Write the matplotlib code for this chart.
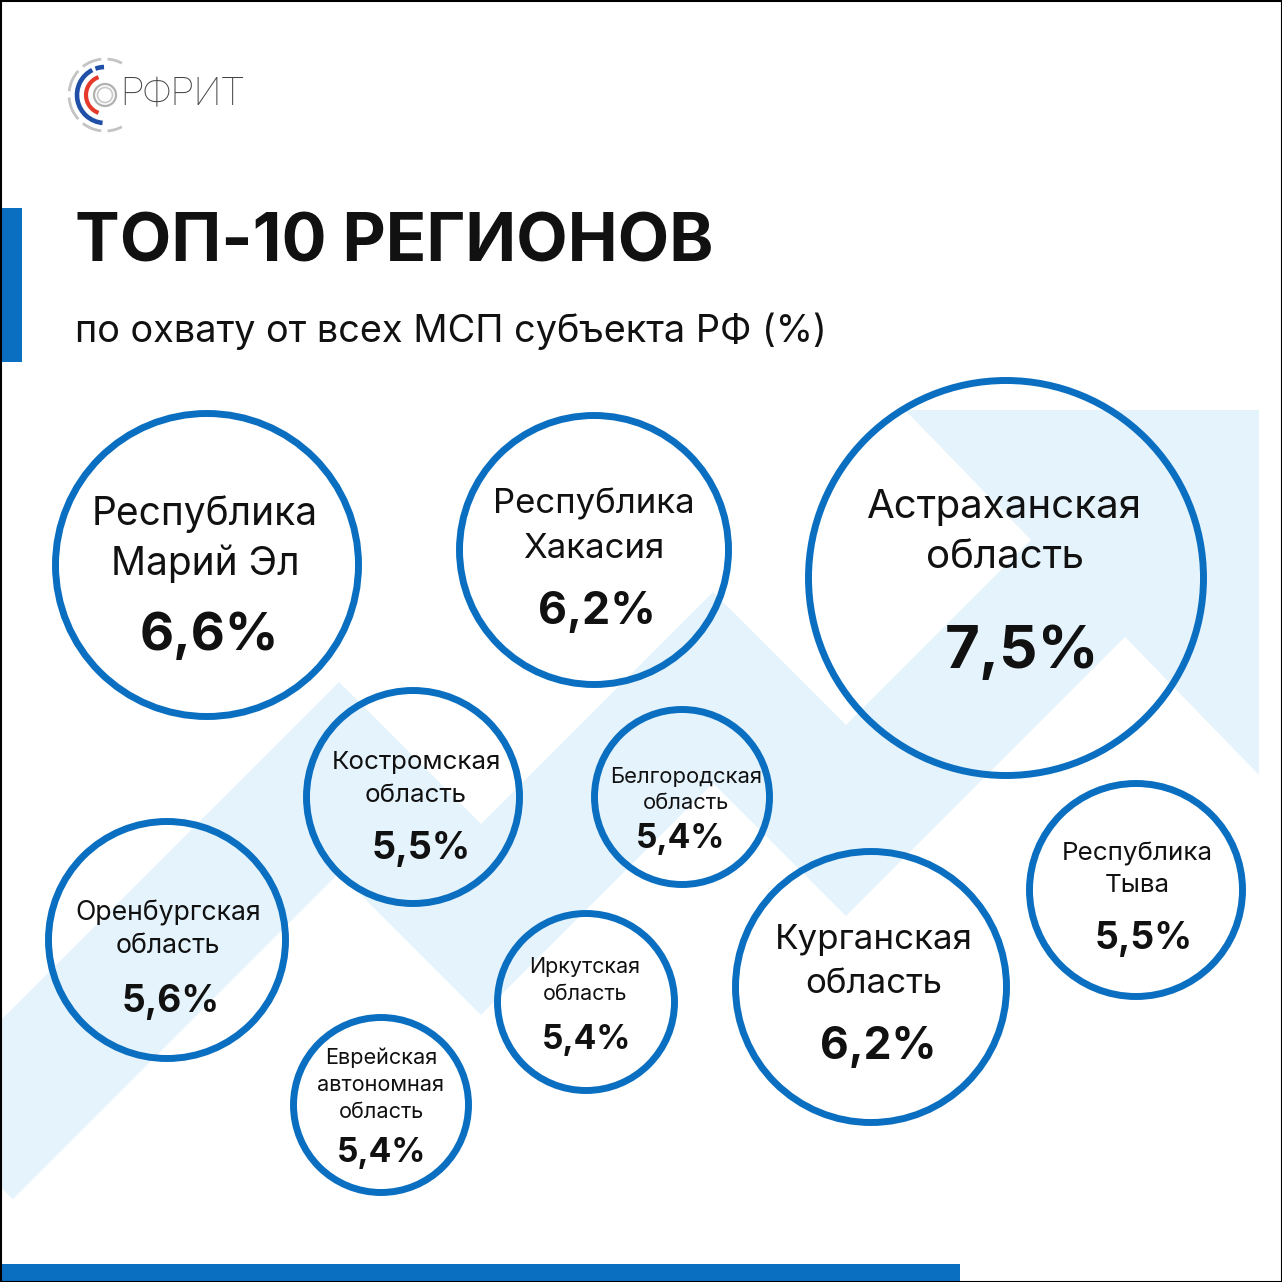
import matplotlib
matplotlib.use("Agg")
import matplotlib.pyplot as plt
import numpy as np
from matplotlib.patches import Circle, Polygon, Rectangle, Arc

# data
regions = ["Республика\nМарий Эл", "Республика\nХакасия", "Астраханская\nобласть",
           "Костромская\nобласть", "Белгородская\nобласть", "Оренбургская\nобласть",
           "Иркутская\nобласть", "Еврейская\nавтономная\nобласть", "Курганская\nобласть",
           "Республика\nТыва"]
values = [6.6, 6.2, 7.5, 5.5, 5.4, 5.6, 5.4, 5.4, 6.2, 5.5]

title = "ТОП-10 РЕГИОНОВ"
subtitle = "по охвату от всех МСП субъекта РФ (%)"
brand = "РФРИТ"

# layout (pixels, y down)
cx = [207, 594, 1006, 413, 682, 167, 586, 381, 871, 1136]
cy = [565, 550, 578, 797, 797, 940, 1002, 1105, 987, 890]
rad = [155, 138, 201, 110, 91, 122, 92, 91, 139, 110]
name_x = [205, 594, 1005, 416, 686, 168, 585, 381, 874, 1137]
name_y = [514, 504, 508, 763, 777, 913, 967, 1058, 940, 854]
line_gap = [50, 45, 49, 33, 26, 33, 27, 27, 44, 31]
name_w = [226, 202, 275, 169, 152, 186, 111, 127, 198, 151]
val_x = [209, 597, 1022, 421, 681, 171, 587, 382, 878, 1144]
val_y = [637, 612, 652, 849, 839, 1002, 1040, 1153, 1047, 939]
val_w = [134, 113, 148, 95, 86, 94, 86, 86, 112, 94]

BLUE = "#0b6fc1"
LIGHT = "#e4f3fc"
FONT = ["Inter", "DejaVu Sans"]

W = 1282
fig = plt.figure(figsize=(W / 100, W / 100), dpi=100)
ax = fig.add_axes([0, 0, 1, 1])
ax.set_xlim(0, W)
ax.set_ylim(W, 0)
ax.axis("off")
renderer = fig.canvas.get_renderer()


def fit(t, w, k=1.0):
    bb = t.get_window_extent(renderer)
    t.set_fontsize(t.get_fontsize() * w / bb.width * k)
    return t.get_fontsize()


def thick_band(pts, h):
    # outline of a polyline of half-width h with mitered joins, butt ends
    pts = np.asarray(pts, float)
    d = np.diff(pts, axis=0)
    d /= np.linalg.norm(d, axis=1)[:, None]
    n = np.stack([-d[:, 1], d[:, 0]], axis=1)
    offs = [n[0] * h]
    for a, b in zip(n[:-1], n[1:]):
        m = (a + b) / np.linalg.norm(a + b)
        offs.append(m * h / np.dot(m, a))
    offs.append(n[-1] * h)
    offs = np.array(offs)
    return np.vstack([pts + offs, (pts - offs)[::-1]])


# background zigzag arrow
bx = [-35, 339, 481, 713, 846, 1180]
by = [1151.5, 777.5, 919.5, 687.5, 820.5, 486.5]
ax.add_patch(Polygon(thick_band(np.column_stack([bx, by]), 67.5), closed=True,
                     color=LIGHT, lw=0, zorder=0))
ax.add_patch(Polygon([(905, 410), (1259, 410), (1259, 775)], closed=True,
                     color=LIGHT, lw=0, zorder=0))

# bars
ax.add_patch(Rectangle((0, 208), 22, 154, color=BLUE, lw=0))
ax.add_patch(Rectangle((0, 1264), 960, 18, color=BLUE, lw=0))

# logo
lc = (105, 95)
ax.add_patch(Circle(lc, 11, fill=False, ec="#b0b0b0", lw=1.6))
ax.add_patch(Circle(lc, 7.5, fill=False, ec="#c8c8c8", lw=1.2))
ax.add_patch(Arc(lc, 38, 38, theta1=110, theta2=250, color="#e5392b", lw=3))
ax.add_patch(Arc(lc, 56, 56, theta1=95, theta2=243, color="#1f4fa6", lw=3.3))
ax.add_patch(Arc(lc, 56, 56, theta1=250, theta2=268, color="#1f4fa6", lw=3.3))
for a1, a2 in [(62, 86), (96, 128), (138, 176), (186, 222), (232, 264), (274, 298)]:
    ax.add_patch(Arc(lc, 72, 72, theta1=a1, theta2=a2, color="#c4c4c4", lw=2))
t = ax.text(120, 95, brand, ha="left", va="center", color="#444444",
            family=["Roboto", "DejaVu Sans"], fontweight="light", fontsize=20)
fit(t, 124)

# titles
t = ax.text(75, 244, title, ha="left", va="center", color="#111111",
            family=FONT, fontweight="bold", fontsize=50)
fit(t, 638)
t = ax.text(75, 331, subtitle, ha="left", va="center", color="#111111",
            family=FONT, fontsize=25)
fit(t, 753)

# circles
for i, name in enumerate(regions):
    ax.add_patch(Circle((cx[i], cy[i]), rad[i] - 3.5, fill=False, ec=BLUE,
                        lw=5, zorder=3))
    lines = name.split("\n")
    longest = max(lines, key=len)
    probe = ax.text(0, 0, longest, family=FONT, fontsize=20)
    fs = fit(probe, name_w[i])
    probe.remove()
    for k, ln in enumerate(lines):
        ax.text(name_x[i], name_y[i] + k * line_gap[i], ln, ha="center",
                va="center", family=FONT, fontsize=fs, color="#111111", zorder=4)
    lab = f"{values[i]:.1f}%".replace(".", ",")
    t = ax.text(val_x[i], val_y[i], lab, ha="center", va="center", family=FONT,
                fontweight="bold", fontsize=30, color="#111111", zorder=4)
    fit(t, val_w[i], 1.04)

# frame
ax.add_patch(Rectangle((0.5, 0.5), W - 1, W - 1, fill=False, ec="black", lw=1.5,
                       zorder=10))

fig.savefig("out.png", dpi=100)
